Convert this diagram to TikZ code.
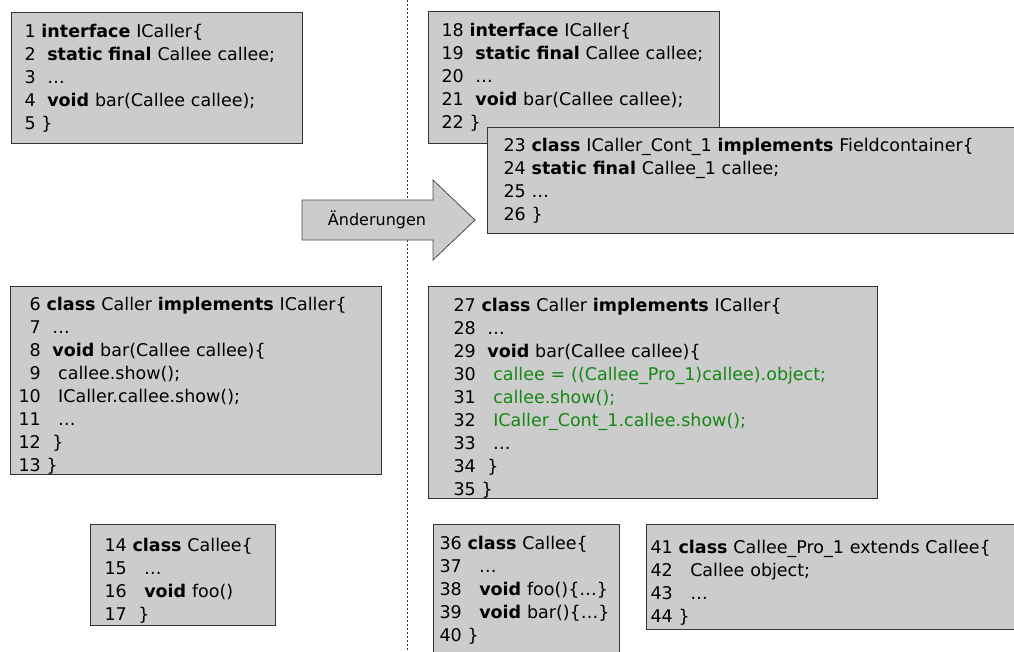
\documentclass[tikz,border=0pt]{standalone}
\usepackage{fontspec}
\setmainfont{DejaVu Sans}
\definecolor{codegreen}{RGB}{20,135,20}
\newcommand{\kw}[1]{\textbf{#1}}
\newcommand{\topgap}{\rule{0pt}{24pt}}
\tikzset{
  codebox/.style={draw=black!80, fill=black!20, line width=1pt, anchor=north west,
    align=left, inner ysep=0pt, font=\fontsize{17.5}{23}\selectfont},
  changearrow/.style={draw=black!70, fill=black!20, line width=0.8pt},
  divider/.style={black!80, line width=0.8pt, dash pattern=on 2pt off 2pt}
}

\begin{document}
\begin{tikzpicture}[x=1pt,y=-1pt]
  \useasboundingbox (0,0) rectangle (1014,651);
  % Trennlinie vorher / nachher
  \coordinate (top) at (407,0);
  \coordinate (bottom) at (407,651);
  \draw[divider] (top) -- (bottom);

  % vorher
  \node[codebox, text width=265pt, minimum height=131pt, inner xsep=13pt] (icallerold) at (11,12)
    {1 \kw{interface} ICaller\{\\
     2 \ \kw{static final} Callee callee;\\
     3 \ \ldots\\
     4 \ \kw{void} bar(Callee callee);\\
     5 \}};
  \node[codebox, text width=355pt, minimum height=186pt, inner xsep=8pt] (callerold) at (10,286)
    {\topgap\hphantom{0}6 \kw{class} Caller \kw{implements} ICaller\{\\
     \hphantom{0}7 \ \ldots\\
     \hphantom{0}8 \ \kw{void} bar(Callee callee)\{\\
     \hphantom{0}9 \ \ callee.show();\\
     10 \ \ ICaller.callee.show();\\
     11 \ \ \ldots\\
     12 \ \}\\
     13 \}};
  \node[codebox, text width=157pt, minimum height=101pt, inner xsep=14pt] (calleeold) at (90,524)
    {\topgap 14 \kw{class} Callee\{\\
     15 \ \ \ldots\\
     16 \ \ \kw{void} foo()\\
     17 \ \}};

  % Pfeil
  \draw[changearrow] (302,200) -- (433,200) -- (433,180) -- (475,220)
    -- (433,260) -- (433,240) -- (302,240) -- cycle;
  \node[font=\fontsize{16}{19}\selectfont] (aenderungen) at (377,220) {Änderungen};

  % nachher
  \node[codebox, text width=265pt, minimum height=132pt, inner xsep=13pt] (icallernew) at (428,11)
    {18 \kw{interface} ICaller\{\\
     19 \ \kw{static final} Callee callee;\\
     20 \ \ldots\\
     21 \ \kw{void} bar(Callee callee);\\
     22 \}};
  \node[codebox, text width=528pt, minimum height=106pt, inner xsep=16pt] (container) at (487,127)
    {23 \kw{class} ICaller\_Cont\_1 \kw{implements} Fieldcontainer\{\\
     24 \kw{static final} Callee\_1 callee;\\
     25 \ldots\\
     26 \}};
  \node[codebox, text width=399pt, minimum height=212pt, inner xsep=25pt] (callernew) at (428,286)
    {\topgap 27 \kw{class} Caller \kw{implements} ICaller\{\\
     28 \ \ldots\\
     29 \ \kw{void} bar(Callee callee)\{\\
     30 \ \ \textcolor{codegreen}{callee = ((Callee\_Pro\_1)callee).object;}\\
     31 \ \ \textcolor{codegreen}{callee.show();}\\
     32 \ \ \textcolor{codegreen}{ICaller\_Cont\_1.callee.show();}\\
     33 \ \ \ldots\\
     34 \ \}\\
     35 \}};
  \node[codebox, text width=174pt, minimum height=132pt, inner xsep=6pt] (calleenew) at (433,524)
    {36 \kw{class} Callee\{\\
     37 \ \ \ldots\\
     38 \ \ \kw{void} foo()\{\ldots\}\\
     39 \ \ \kw{void} bar()\{\ldots\}\\
     40 \}};
  \node[codebox, text width=372pt, minimum height=105pt, inner xsep=4pt] (calleepro) at (646,524)
    {\topgap 41 \kw{class} Callee\_Pro\_1 extends Callee\{\\
     42 \ \ Callee object;\\
     43 \ \ \ldots\\
     44 \}};
\end{tikzpicture}
\end{document}
